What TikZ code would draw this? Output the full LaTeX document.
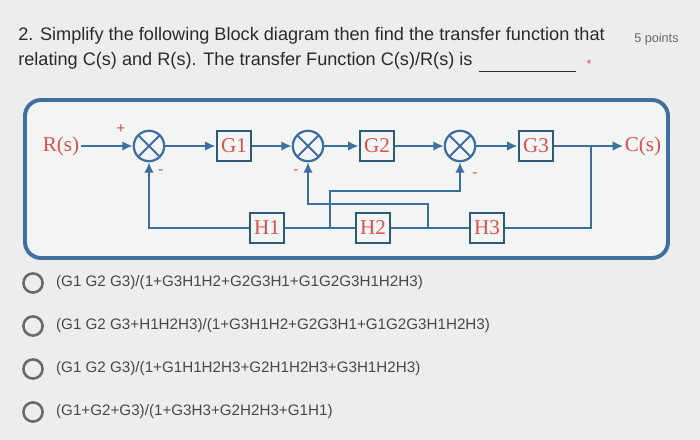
\documentclass[tikz,border=0pt]{standalone}
\usepackage{fontspec}
\setmainfont{Liberation Sans}
\newfontfamily\blockserif{Liberation Serif}
\usetikzlibrary{arrows.meta,positioning}
\definecolor{paper}{HTML}{ECEEEE}
\definecolor{panel}{HTML}{F3F5F5}
\definecolor{frameblue}{HTML}{41709E}
\definecolor{wireblue}{HTML}{3C6E9E}
\definecolor{boxteal}{HTML}{2E5A78}
\definecolor{labelred}{HTML}{D9504C}
\definecolor{textdark}{HTML}{2A2A2A}
\definecolor{textgray}{HTML}{484848}
\definecolor{radiogray}{HTML}{686868}
\tikzset{
  >=Latex,
  question/.style={anchor=west, inner sep=0pt, font=\fontsize{12.9}{15}\selectfont, text=textdark},
  option/.style={anchor=west, inner sep=0pt, font=\fontsize{10.8}{13}\selectfont, text=textgray},
  radio/.style={circle, draw=radiogray, line width=1.8pt, minimum size=0.48cm, inner sep=0pt},
  block/.style={
    rectangle, draw=boxteal, line width=1.5pt, fill=panel,
    minimum width=0.87cm, minimum height=0.74cm, inner sep=0pt,
    font=\blockserif\fontsize{15}{15}\selectfont, text=labelred
  },
  summer/.style={
    circle, draw=wireblue, line width=1.6pt, fill=panel,
    minimum size=0.76cm, inner sep=0pt,
    path picture={\draw[wireblue, line width=1.4pt]
      (path picture bounding box.north west) -- (path picture bounding box.south east)
      (path picture bounding box.north east) -- (path picture bounding box.south west);}
  },
  signal/.style={inner sep=1pt, font=\blockserif\fontsize{15}{15}\selectfont, text=labelred},
  sign/.style={inner sep=0pt, font=\fontsize{11}{11}\selectfont, text=labelred},
  wire/.style={draw=wireblue, line width=1.6pt},
  arrow/.style={wire, -{Latex[length=2.6mm,width=2.4mm]}}
}

\begin{document}
\begin{tikzpicture}[x=0.025cm, y=-0.025cm]
\fill[paper] (0,0) rectangle (700,440);
\useasboundingbox (0,0) rectangle (700,440);
% question
\node[question] (q1) at (18,36) {2. Simplify the following Block diagram then find the transfer function that};
\node[anchor=west, inner sep=0pt, font=\fontsize{9}{9}\selectfont, text=radiogray] (pts) at (634,39) {5 points};
\node[question] (q2) at (18,61) {relating C(s) and R(s). The transfer Function C(s)/R(s) is};
\coordinate (blankl) at (479,71);
\coordinate (blankr) at (576,71);
\draw[textdark, line width=0.6pt] (blankl) -- (blankr);
\node[text=labelred, inner sep=0pt, font=\fontsize{9}{9}\selectfont] (star) at (589,64) {*};
% block diagram
\draw[frameblue, line width=2.8pt, rounded corners=0.4cm, fill=panel] (25,100) rectangle (668,258);
\node[signal] (rin) at (61,146) {R(s)};
\node[summer] (s1) at (149,146) {};
\node[block] (g1) at (234,146) {G1};
\node[summer] (s2) at (308,146) {};
\node[block] (g2) at (377,146) {G2};
\node[summer] (s3) at (460,146) {};
\node[block] (g3) at (536,146) {G3};
\node[signal] (cout) at (643,146) {C(s)};
\node[block] (h1) at (267,228) {H1};
\node[block] (h2) at (373,228) {H2};
\node[block] (h3) at (487,228) {H3};
\node[sign] (p1) at (121,129) {+};
\node[sign] (m1) at (161,172) {-};
\node[sign] (m2) at (296,172) {-};
\node[sign] (m3) at (475,175) {-};
\coordinate (tap) at (591,146);
\coordinate (j12) at (330,228);
\coordinate (j23) at (428,228);
\coordinate (k3) at (330,191);
\coordinate (k2) at (428,204);
\draw[arrow] (rin) -- (s1);
\draw[arrow] (s1) -- (g1);
\draw[arrow] (g1) -- (s2);
\draw[arrow] (s2) -- (g2);
\draw[arrow] (g2) -- (s3);
\draw[arrow] (s3) -- (g3);
\draw[arrow] (g3) -- (cout);
\draw[wire] (tap) |- (h3);
\draw[wire] (h3) -- (h2);
\draw[wire] (h2) -- (h1);
\draw[arrow] (h1) -| (s1);
\draw[arrow] (j23) -- (k2) -| (s2);
\draw[arrow] (j12) -- (k3) -| (s3);
% answer options
\foreach \row/\ypos in {1/283, 2/326, 3/369, 4/412}
  \node[radio] (r\row) at (33,\ypos) {};
\node[option, right=0.3cm of r1] (a1) {(G1 G2 G3)/(1+G3H1H2+G2G3H1+G1G2G3H1H2H3)};
\node[option, right=0.3cm of r2] (a2) {(G1 G2 G3+H1H2H3)/(1+G3H1H2+G2G3H1+G1G2G3H1H2H3)};
\node[option, right=0.3cm of r3] (a3) {(G1 G2 G3)/(1+G1H1H2H3+G2H1H2H3+G3H1H2H3)};
\node[option, right=0.3cm of r4] (a4) {(G1+G2+G3)/(1+G3H3+G2H2H3+G1H1)};
\end{tikzpicture}
\end{document}
